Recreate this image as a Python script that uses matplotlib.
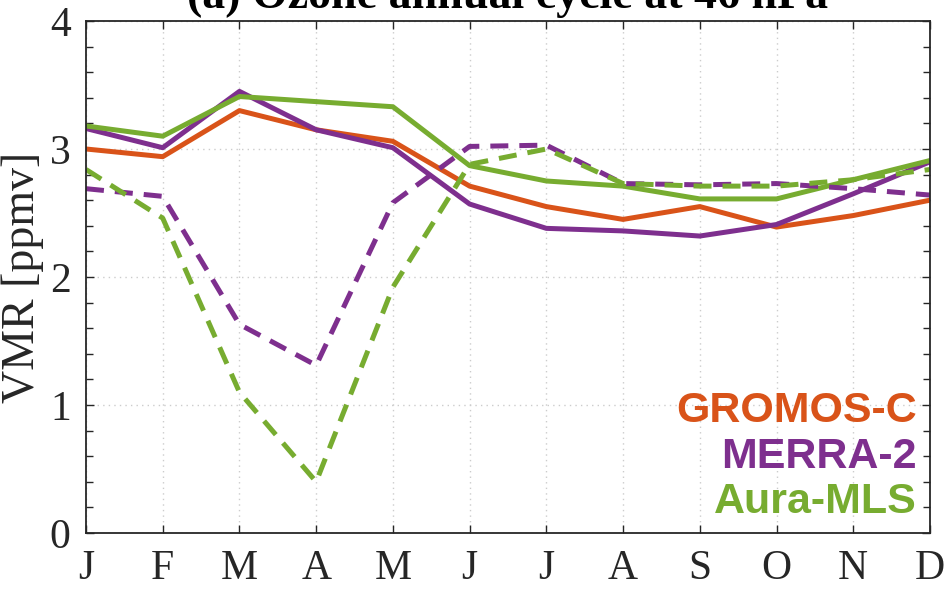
import numpy as np
import matplotlib
matplotlib.use('Agg')
import matplotlib.pyplot as plt
from matplotlib.ticker import MultipleLocator

# monthly ozone VMR at 46 hPa [ppmv]
months = ['J', 'F', 'M', 'A', 'M', 'J', 'J', 'A', 'S', 'O', 'N', 'D']
gromos = [3.00, 2.94, 3.30, 3.15, 3.06, 2.71, 2.55, 2.45, 2.55, 2.39, 2.48, 2.60]
merra = [3.16, 3.01, 3.45, 3.15, 3.01, 2.57, 2.38, 2.36, 2.32, 2.41, 2.65, 2.90]
mls = [3.18, 3.10, 3.41, 3.37, 3.33, 2.87, 2.75, 2.71, 2.61, 2.61, 2.76, 2.91]
# polar (dashed) series
merra_polar = [2.69, 2.63, 1.63, 1.31, 2.58, 3.02, 3.03, 2.73, 2.72, 2.73, 2.69, 2.64]
mls_polar = [2.84, 2.46, 1.10, 0.40, 1.92, 2.88, 3.00, 2.73, 2.71, 2.71, 2.76, 2.84]

names = ['GROMOS-C', 'MERRA-2', 'Aura-MLS']
c_gromos = '#D95319'
c_merra = '#7E2F8E'
c_mls = '#77AC30'

serif = 'Liberation Serif'
sans = 'Liberation Sans'
dark = '#262626'

fig = plt.figure(figsize=(9.47, 5.91), dpi=100)
ax = fig.add_axes([0.0908, 0.0981, 0.8912, 0.8664])

x = np.arange(1, 13)
lw = 3.6
ax.plot(x, gromos, color=c_gromos, lw=lw)
ax.plot(x, merra, color=c_merra, lw=lw)
ax.plot(x, mls, color=c_mls, lw=lw)
ax.plot(x, merra_polar, color=c_merra, lw=lw, dashes=(3.6, 2.2))
ax.plot(x, mls_polar, color=c_mls, lw=lw, dashes=(3.6, 2.2))

ax.set_xlim(1, 12)
ax.set_ylim(0, 4)
ax.set_xticks(x)
ax.set_xticklabels(months)
ax.yaxis.set_major_locator(MultipleLocator(1))
ax.yaxis.set_minor_locator(MultipleLocator(0.2))

ax.grid(True, which='major', linestyle=(0, (1, 3)), color='#cccccc', lw=1.0)
ax.set_axisbelow(True)
for sp in ax.spines.values():
    sp.set_color(dark)
    sp.set_linewidth(1.3)

ax.tick_params(axis='both', which='major', direction='in', length=6, width=1.0,
               top=True, right=True, colors=dark, labelsize=30)
ax.tick_params(axis='both', which='minor', direction='in', length=5, width=1.0,
               top=False, right=True, colors=dark)
ax.tick_params(axis='x', pad=12)
ax.tick_params(axis='y', pad=11)
for lab in ax.get_xticklabels() + ax.get_yticklabels():
    lab.set_fontfamily(serif)

ax.set_ylabel('VMR [ppmv]', fontsize=33, family=serif, color=dark, labelpad=4)

fig.text(0.536, 0.986, '(a) Ozone annual cycle at 46 hPa', fontsize=33,
         family=serif, fontweight='bold', color='black', ha='center', va='baseline')

# colored text legend in the lower right corner
for name, col, yy in zip(names, [c_gromos, c_merra, c_mls], [0.2174, 0.1264, 0.0385]):
    ax.text(0.9846, yy, name, transform=ax.transAxes, ha='right', va='baseline',
            fontsize=31, family=sans, fontweight='bold', color=col)

fig.savefig('out.png', dpi=100)
